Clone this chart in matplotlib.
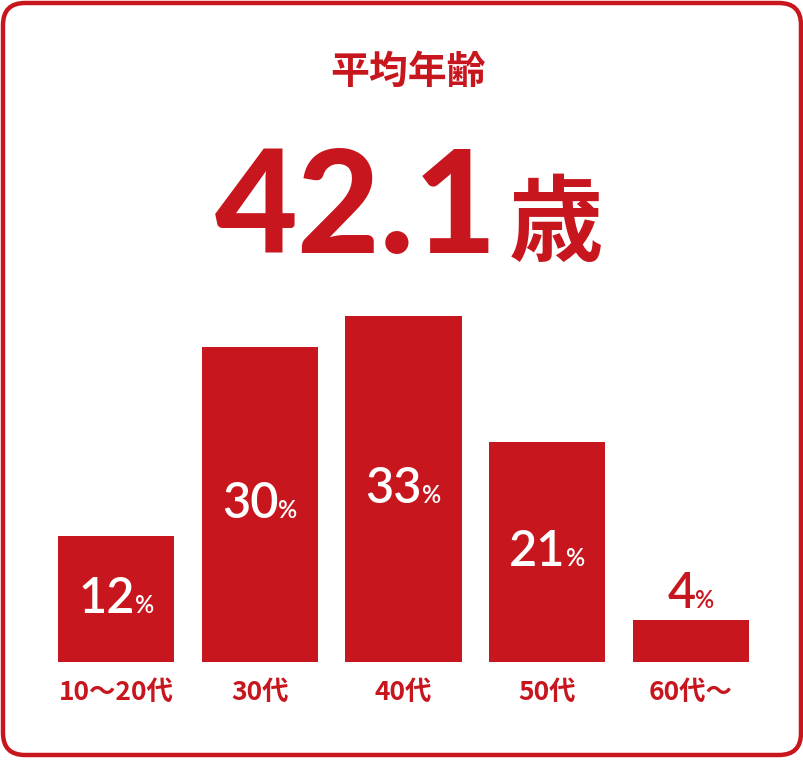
import matplotlib
matplotlib.use("Agg")
import matplotlib.pyplot as plt
from matplotlib.patches import FancyBboxPatch
from matplotlib.offsetbox import TextArea, HPacker, AnnotationBbox

# data
categories = ["10～20代", "30代", "40代", "50代", "60代～"]
shares = [12, 30, 33, 21, 4]
title = "平均年齢"
avg_age = "42.1"
age_unit = "歳"

RED = "#C8161E"
JP = ["Noto Sans CJK JP", "DejaVu Sans"]
NUM = ["Lato", "DejaVu Sans"]

W, H = 804, 760
fig = plt.figure(figsize=(W / 100, H / 100), dpi=100)

# background axes in pixel units for frame + headings
bg = fig.add_axes([0, 0, 1, 1])
bg.set_xlim(0, W)
bg.set_ylim(H, 0)
bg.axis("off")

frame = FancyBboxPatch((3, 3), W - 6, H - 8, boxstyle="round,pad=0,rounding_size=22",
                       fc="white", ec=RED, lw=3.2)
bg.add_patch(frame)

bg.text(408, 72, title, ha="center", va="center", color=RED, fontsize=28,
        fontweight="bold", family=JP)

big = HPacker(children=[
    TextArea(avg_age, textprops=dict(color=RED, fontsize=103, fontweight="black", family=NUM)),
    TextArea(age_unit, textprops=dict(color=RED, fontsize=68, fontweight="bold", family=JP)),
], align="baseline", pad=0, sep=8)
bg.add_artist(AnnotationBbox(big, (409, 212), frameon=False, box_alignment=(0.5, 0.5),
                             xycoords="data"))

# bar axes
w = 0.807
ax = fig.add_axes([58 / W, (H - 662) / H, 691 / W, 362 / H])
ax.set_xlim(-w / 2, len(shares) - 1 + w / 2)
ax.set_ylim(0, 362 / 10.5)
ax.axis("off")

x = list(range(len(shares)))
ax.bar(x, shares, width=w, color=RED)

for i, v in enumerate(shares):
    inside = v >= 10
    col = "white" if inside else RED
    pack = HPacker(children=[
        TextArea(str(v), textprops=dict(color=col, fontsize=35, fontweight="semibold", family=NUM)),
        TextArea("%", textprops=dict(color=col, fontsize=17, fontweight="semibold", family=NUM)),
    ], align="baseline", pad=0, sep=0)
    if inside:
        ab = AnnotationBbox(pack, (i, v / 2), frameon=False, box_alignment=(0.5, 0.5))
    else:
        ab = AnnotationBbox(pack, (i, v), xybox=(0, 2), boxcoords="offset points",
                            frameon=False, box_alignment=(0.5, 0.0))
    ax.add_artist(ab)
    ax.annotate(categories[i], (i, 0), xytext=(0, -22), textcoords="offset points",
                ha="center", va="center", color=RED, fontsize=19, fontweight="bold",
                family=JP, annotation_clip=False)

fig.savefig("out.png", dpi=100)
